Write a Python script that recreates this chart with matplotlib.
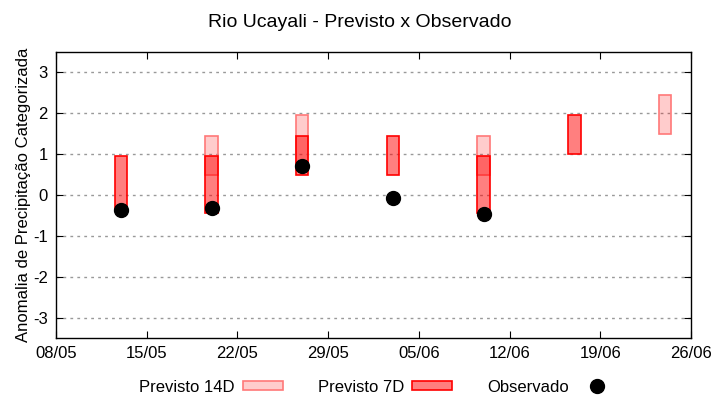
import matplotlib
matplotlib.use("Agg")
import matplotlib.pyplot as plt
import matplotlib.dates as mdates
import pandas as pd
from matplotlib.patches import Patch
from matplotlib.lines import Line2D

plt.rcParams['font.family'] = ['Liberation Sans', 'DejaVu Sans']
plt.rcParams['axes.unicode_minus'] = False

# previsao 14 dias (limite inferior / superior)
d14_dates = ["2024-05-20", "2024-05-27", "2024-06-10", "2024-06-24"]
d14_low = [0.5, 0.6, 0.5, 1.5]
d14_high = [1.45, 1.95, 1.45, 2.45]

# previsao 7 dias
d7_dates = ["2024-05-13", "2024-05-20", "2024-05-27", "2024-06-03", "2024-06-10", "2024-06-17"]
d7_low = [-0.35, -0.45, 0.5, 0.5, -0.45, 1.0]
d7_high = [0.95, 0.95, 1.45, 1.45, 0.95, 1.95]

# observado
obs_dates = ["2024-05-13", "2024-05-20", "2024-05-27", "2024-06-03", "2024-06-10"]
obs_vals = [-0.37, -0.33, 0.72, -0.08, -0.47]

x_start = "2024-05-08"
x_end = "2024-06-26"

x14 = pd.to_datetime(d14_dates)
x7 = pd.to_datetime(d7_dates)
xo = pd.to_datetime(obs_dates)

fig = plt.figure(figsize=(7.2, 4.0), dpi=100)
ax = fig.add_axes([56/720, 1-338/400, (691-56)/720, (338-52)/400])

c14_face = (1, 0, 0, 0.2)
c14_edge = (1, 0.47, 0.47)
c7_face = (1, 0, 0, 0.5)
c7_edge = (1, 0, 0)

ax.bar(x14, [h - l for h, l in zip(d14_high, d14_low)], bottom=d14_low, width=0.95,
       facecolor=c14_face, edgecolor=c14_edge, linewidth=1.2, zorder=3)
ax.bar(x7, [h - l for h, l in zip(d7_high, d7_low)], bottom=d7_low, width=0.95,
       facecolor=c7_face, edgecolor=c7_edge, linewidth=1.2, zorder=4)
ax.plot(xo, obs_vals, linestyle='none', marker='o', markersize=10, color='black', zorder=5)

ax.set_xlim(pd.Timestamp(x_start), pd.Timestamp(x_end))
ax.set_ylim(-3.5, 3.5)
ax.set_xticks(pd.date_range(x_start, x_end, freq="7D"))
ax.xaxis.set_major_formatter(mdates.DateFormatter("%d/%m"))
ax.set_yticks([-3, -2, -1, 0, 1, 2, 3])
ax.tick_params(direction='in', top=True, right=True, length=5, labelsize=12, pad=6)
ax.grid(axis='y', linestyle=(0, (2, 3)), color='#999999', linewidth=1)
for s in ax.spines.values():
    s.set_linewidth(1)
ax.set_ylabel("Anomalia de Precipitação Categorizada", fontsize=12, labelpad=1)
fig.suptitle("Rio Ucayali - Previsto x Observado", fontsize=14, y=0.965)

handles = [Patch(facecolor=c14_face, edgecolor=c14_edge, linewidth=1.2),
           Patch(facecolor=c7_face, edgecolor=c7_edge, linewidth=1.2),
           Line2D([], [], linestyle='none', marker='o', markersize=10, color='black')]
fig.legend(handles, ["Previsto 14D", "Previsto 7D", "Observado"], loc='center',
           bbox_to_anchor=(0.525, 1-387/400), ncol=3, frameon=False, fontsize=12,
           markerfirst=False, handlelength=2.4, handleheight=0.45, handletextpad=0.5,
           columnspacing=2.1)

fig.savefig("out.png", dpi=100)
